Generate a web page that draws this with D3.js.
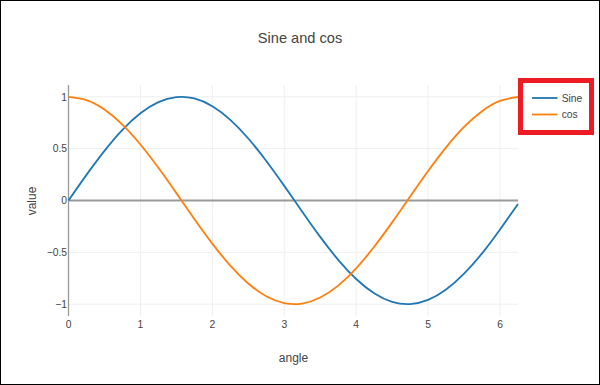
<!DOCTYPE html>
<html>
<head>
<meta charset="utf-8">
<script src="https://cdn.jsdelivr.net/npm/d3@7/dist/d3.min.js"></script>
<style>
  html, body { margin: 0; padding: 0; background: #fff; }
  svg { display: block; }
  text { font-family: "Liberation Sans", Arial, sans-serif; fill: #444; }
</style>
</head>
<body>
<svg id="chart" width="600" height="385"></svg>
<script>
const angle = [0, 0.25, 0.5, 0.75, 1, 1.25, 1.5, 1.75, 2, 2.25, 2.5, 2.75, 3, 3.25, 3.5, 3.75, 4, 4.25, 4.5, 4.75, 5, 5.25, 5.5, 5.75, 6, 6.25];
const sineValues = [0, 0.247, 0.479, 0.682, 0.841, 0.949, 0.997, 0.984, 0.909, 0.778, 0.598, 0.381, 0.141, -0.108, -0.351, -0.572, -0.757, -0.895, -0.978, -0.999, -0.959, -0.859, -0.706, -0.510, -0.279, -0.033];
const cosValues = [1, 0.969, 0.878, 0.732, 0.540, 0.315, 0.071, -0.178, -0.416, -0.628, -0.801, -0.924, -0.990, -0.994, -0.936, -0.821, -0.654, -0.446, -0.211, 0.038, 0.284, 0.512, 0.709, 0.861, 0.960, 0.999];
const seriesNames = ["Sine", "cos"];
const seriesColors = ["#1f77b4", "#ff7f0e"];
const xTicks = [0, 1, 2, 3, 4, 5, 6];
const yTicks = [-1, -0.5, 0, 0.5, 1];

const svg = d3.select("#chart");
const x = d3.scaleLinear().domain([0, 6.25]).range([68.5, 518]);
const y = d3.scaleLinear().domain([-1.114, 1.114]).range([316, 85]);

// grid
const g = svg.append("g");
g.selectAll(".vg").data(xTicks.filter(d => d !== 0)).join("line")
  .attr("x1", d => x(d)).attr("x2", d => x(d))
  .attr("y1", y.range()[1]).attr("y2", y.range()[0])
  .attr("stroke", "#eee").attr("stroke-width", 1);
g.selectAll(".hg").data(yTicks.filter(d => d !== 0)).join("line")
  .attr("x1", x.range()[0]).attr("x2", x.range()[1])
  .attr("y1", d => y(d)).attr("y2", d => y(d))
  .attr("stroke", "#eee").attr("stroke-width", 1);

// zero line
g.append("line")
  .attr("x1", x.range()[0]).attr("x2", x.range()[1])
  .attr("y1", y(0)).attr("y2", y(0))
  .attr("stroke", "#999").attr("stroke-width", 1.8);

// y axis line
g.append("line")
  .attr("x1", x(0)).attr("x2", x(0))
  .attr("y1", y.range()[1]).attr("y2", y.range()[0])
  .attr("stroke", "#999").attr("stroke-width", 1.3);

// lines
const series = [sineValues, cosValues];
const line = d3.line().x((d, i) => x(angle[i])).y(d => y(d)).curve(d3.curveNatural);
series.forEach((vals, k) => {
  svg.append("path").datum(vals)
    .attr("d", line)
    .attr("fill", "none")
    .attr("stroke", seriesColors[k])
    .attr("stroke-width", 1.8);
});

// tick labels
const fmt = d => (d < 0 ? "\u2212" : "") + Math.abs(d);
svg.selectAll(".xt").data(xTicks).join("text")
  .attr("x", d => x(d)).attr("y", 327.5)
  .attr("text-anchor", "middle").attr("font-size", 10.3)
  .text(d => d);
svg.selectAll(".yt").data(yTicks).join("text")
  .attr("x", 67).attr("y", d => y(d) + 3.7)
  .attr("text-anchor", "end").attr("font-size", 10.3)
  .text(fmt);

// titles
svg.append("text").attr("x", 300).attr("y", 43.3)
  .attr("text-anchor", "middle").attr("font-size", 14.6).text("Sine and cos");
svg.append("text").attr("x", 293.5).attr("y", 361.5)
  .attr("text-anchor", "middle").attr("font-size", 12).text("angle");
svg.append("text").attr("transform", "translate(36,201) rotate(-90)")
  .attr("text-anchor", "middle").attr("font-size", 12).text("value");

// legend
const lg = svg.append("g");
seriesNames.forEach((name, k) => {
  const yy = 98 + k * 16.5;
  lg.append("line").attr("x1", 532).attr("x2", 557.5).attr("y1", yy).attr("y2", yy)
    .attr("stroke", seriesColors[k]).attr("stroke-width", 1.8);
  lg.append("text").attr("x", 561.7).attr("y", yy + 3.7).attr("font-size", 10.3).text(name);
});
// red highlight box
svg.append("rect").attr("x", 520.5).attr("y", 80.5).attr("width", 71).attr("height", 52)
  .attr("fill", "none").attr("stroke", "#ed1c24").attr("stroke-width", 5);

// outer border
svg.append("rect").attr("x", 0.5).attr("y", 0.5).attr("width", 599).attr("height", 384)
  .attr("fill", "none").attr("stroke", "#000").attr("stroke-width", 1);
</script>
</body>
</html>
